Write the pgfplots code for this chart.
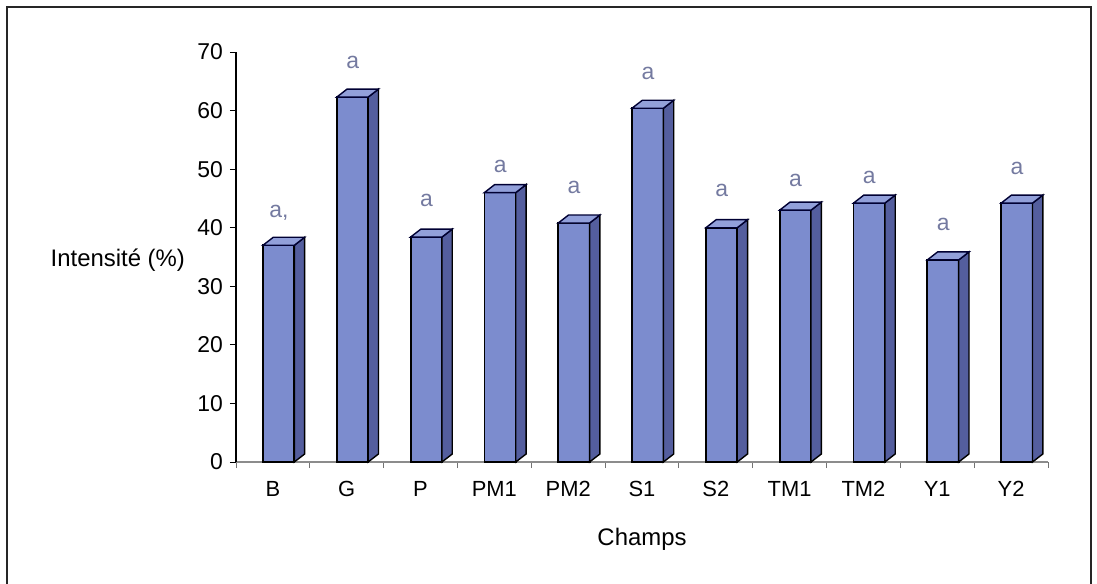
\documentclass[border=0pt]{standalone}
\usepackage{fontspec}
\setmainfont{Liberation Sans}
\usepackage{pgfplots}
\usepackage{pgfplotstable}
\pgfplotsset{compat=1.18}
\definecolor{front}{RGB}{124,140,206}
\definecolor{side}{RGB}{84,94,158}
\definecolor{topc}{RGB}{146,160,218}
\definecolor{labc}{RGB}{116,122,160}

\pgfplotstableread{
idx v ly lab
0 37.0 42.5 a,
1 62.3 68.3 a
2 38.4 44.7 a
3 46.0 50.4 a
4 40.8 46.8 a
5 60.4 66.4 a
6 40.0 46.4 a
7 43.0 48.1 a
8 44.2 48.5 a
9 34.5 40.5 a
10 44.2 50.2 a
}\data

\begin{document}
\begin{tikzpicture}
\path[use as bounding box] (0,0) rectangle (548.5bp,292bp);
\draw[line width=0.9bp, black!85] (3.5bp,0) -- (3.5bp,288.5bp) -- (545.5bp,288.5bp) -- (545.5bp,0);
\begin{axis}[
  at={(118bp,61bp)}, anchor=south west,
  scale only axis, width=406bp, height=205bp,
  xmin=-0.5, xmax=10.5, ymin=0, ymax=70,
  axis x line*=bottom, axis y line*=left,
  y axis line style={line width=0.6bp, black},
  x axis line style={line width=0.6bp, black!45},
  xtick={0,...,10},
  xticklabels={B,G,P,PM1,PM2,S1,S2,TM1,TM2,Y1,Y2},
  major x tick style={draw=none},
  minor xtick={-0.5,0.5,...,10.5},
  minor tick length=3bp,
  minor x tick style={black!55, line width=0.5bp},
  ytick={0,10,...,70},
  major tick length=3bp,
  tick align=outside,
  major y tick style={black, line width=0.5bp},
  /pgf/number format/assume math mode=true,
  yticklabel style={font=\fontsize{11.5}{13}\selectfont},
  xticklabel style={font=\fontsize{11}{13}\selectfont, yshift=-3bp},
  xlabel={Champs},
  xlabel style={font=\fontsize{12}{14}\selectfont, yshift=-9bp},
  ylabel={Intensité (\%)},
  ylabel style={rotate=-90, anchor=east, at={(rel axis cs:0,0.493)}, xshift=-22bp, font=\fontsize{12}{14}\selectfont},
  clip=false,
]
% front faces
\addplot[ybar, bar width=0.425, bar shift=0.078, fill=front, draw=black, line width=0.9bp] table[x=idx, y=v] {\data};
% side and top faces
\pgfplotsinvokeforeach{0,...,10}{
  \pgfplotstablegetelem{#1}{v}\of\data
  \pgfmathsetmacro{\vv}{\pgfplotsretval}
  \pgfmathsetmacro{\vt}{\vv+1.37}
  \pgfmathsetmacro{\xl}{#1-0.135}
  \pgfmathsetmacro{\xlb}{#1+0.005}
  \pgfmathsetmacro{\xr}{#1+0.29}
  \pgfmathsetmacro{\xb}{#1+0.43}
  \edef\cmd{\noexpand\addplot[fill=side, draw=black, line width=0.7bp] coordinates {(\xr,0) (\xb,1.37) (\xb,\vt) (\xr,\vv)} -- cycle;
  \noexpand\addplot[fill=topc, draw=black!80!blue, line width=0.7bp] coordinates {(\xl,\vv) (\xlb,\vt) (\xb,\vt) (\xr,\vv)} -- cycle;}
  \cmd
}
% letters
\addplot[draw=none, mark=none, nodes near coords, point meta=explicit symbolic,
  nodes near coords style={anchor=center, text=labc, font=\fontsize{11.5}{13}\selectfont}]
  table[x expr=\thisrow{idx}+0.08, y=ly, meta=lab] {\data};
\end{axis}
\end{tikzpicture}
\end{document}
